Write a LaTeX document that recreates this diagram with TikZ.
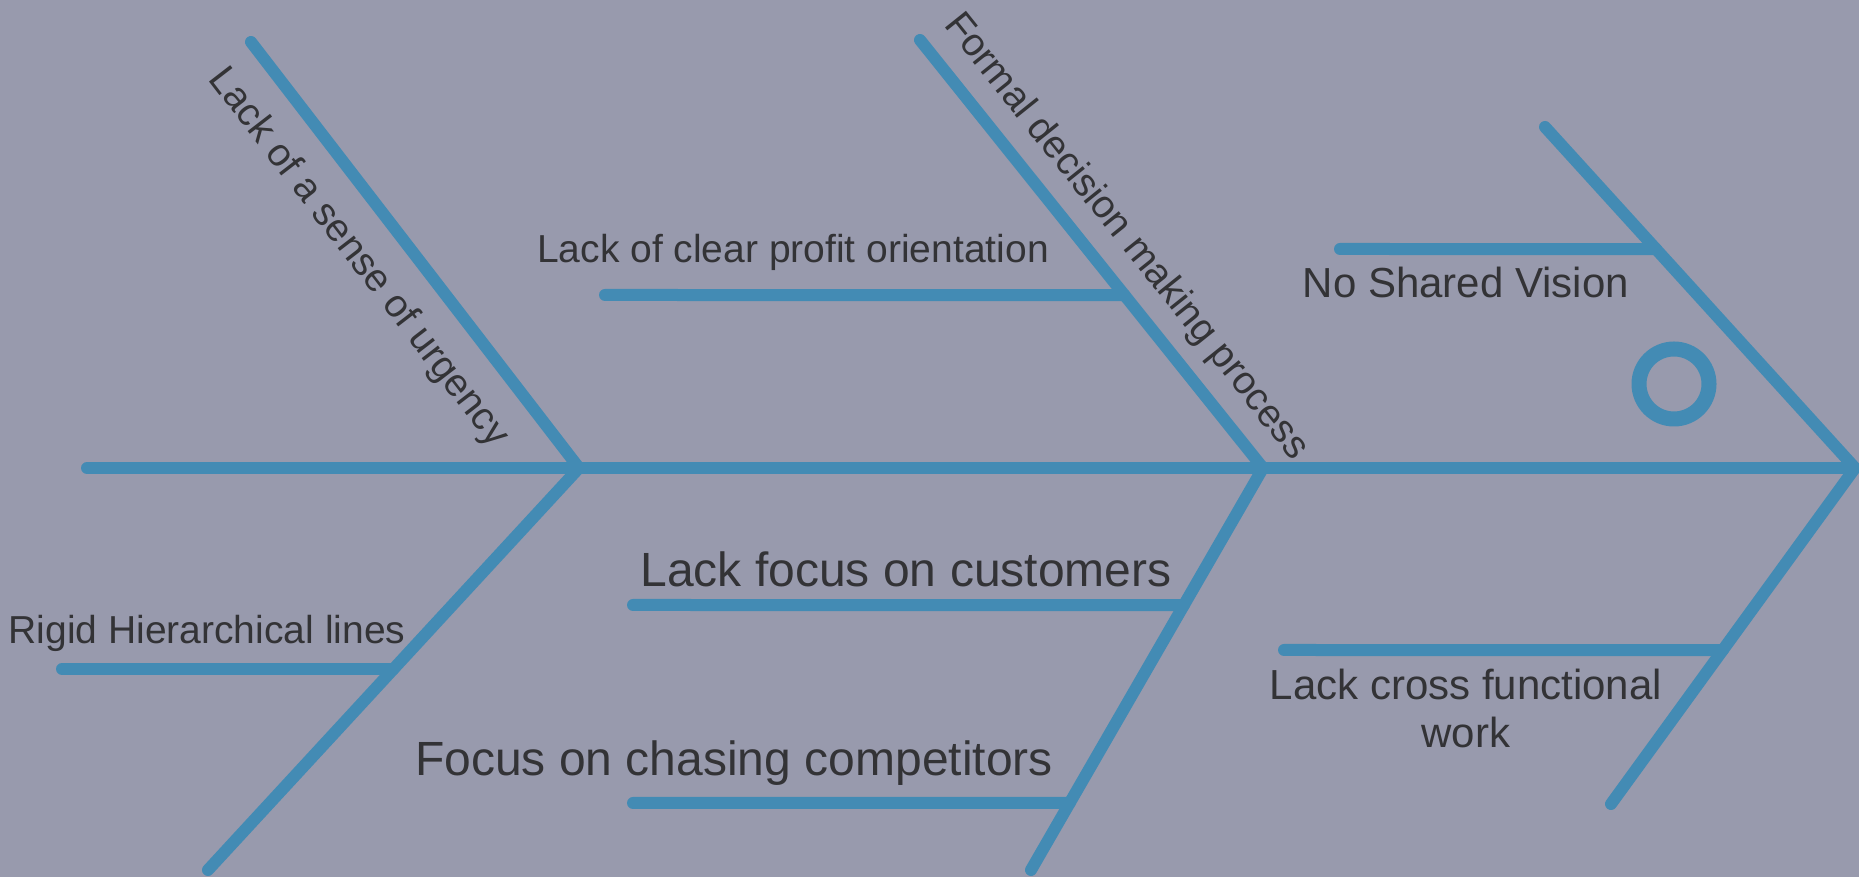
\documentclass[tikz,border=0pt]{standalone}
\usepackage{fontspec}
\setmainfont{Liberation Sans}
\usetikzlibrary{calc}
\definecolor{fishbg}{HTML}{989AAD}
\definecolor{fishblue}{HTML}{438BB4}
\definecolor{fishtext}{HTML}{333336}

\begin{document}
\begin{tikzpicture}[x=0.5pt, y=0.5pt,
    bone/.style={draw=fishblue, line width=6pt, line cap=round},
    cause/.style={text=fishtext, inner sep=0pt, anchor=base},
    bigtext/.style={font=\fontsize{24}{28}\selectfont},
    midtext/.style={font=\fontsize{21}{24}\selectfont},
    smalltext/.style={font=\fontsize{19.5}{23}\selectfont}
]
    \fill[fishbg] (0,0) rectangle (1859,877);
    \useasboundingbox (0,0) rectangle (1859,877);

    % spine and head
    \coordinate (tail) at (87,409);
    \coordinate (tip) at (1855,409);
    \coordinate (headtop) at (1545,750);
    \coordinate (headbot) at (1611,73);
    \draw[bone] (tail) -- (tip);
    \draw[bone] (headtop) -- (tip) -- (headbot);
    \draw[draw=fishblue, line width=7.5pt] (1674,493) circle (35);

    % main bones
    \coordinate (jleft) at (579,409);
    \coordinate (jright) at (1263,409);
    \coordinate (ultop) at (251,835);
    \coordinate (llend) at (208,7);
    \coordinate (urtop) at (920,837);
    \coordinate (lrend) at (1031,7);
    \draw[bone] (ultop) -- (jleft) -- (llend);
    \draw[bone] (urtop) -- (jright) -- (lrend);

    % ribs
    \coordinate (profit) at ($(urtop)!0.596!(jright)$);
    \coordinate (vision) at ($(headtop)!0.358!(tip)$);
    \coordinate (rigid) at ($(jleft)!0.5!(llend)$);
    \coordinate (customers) at ($(jright)!0.341!(lrend)$);
    \coordinate (competitors) at ($(jright)!0.833!(lrend)$);
    \coordinate (cross) at ($(tip)!0.542!(headbot)$);
    \draw[bone] (profit) -- (605,582);
    \draw[bone] (vision) -- (1340,628);
    \draw[bone] (rigid) -- (62,208);
    \draw[bone] (customers) -- (633,272);
    \draw[bone] (competitors) -- (633,74);
    \draw[bone] (cross) -- (1284,227);

    % labels
    \node[cause, smalltext, rotate=-52.4, anchor=center] (urgencytxt) at (358,619) {Lack of a sense of urgency};
    \node[cause, smalltext, rotate=-51.3, anchor=center] (formaltxt) at (1126,640) {Formal decision making process};
    \node[cause, smalltext] (profittxt) at (793,614) {Lack of clear profit orientation};
    \node[cause, midtext] (visiontxt) at (1466,579) {No Shared Vision};
    \node[cause, smalltext] (rigidtxt) at (207,233) {Rigid Hierarchical lines};
    \node[cause, bigtext] (customerstxt) at (906,290) {Lack focus on customers};
    \node[cause, bigtext] (competitorstxt) at (734,101) {Focus on chasing competitors};
    \node[cause, midtext, align=center] (crosstxt) at (1466,129) {Lack cross functional\\work};
\end{tikzpicture}
\end{document}
